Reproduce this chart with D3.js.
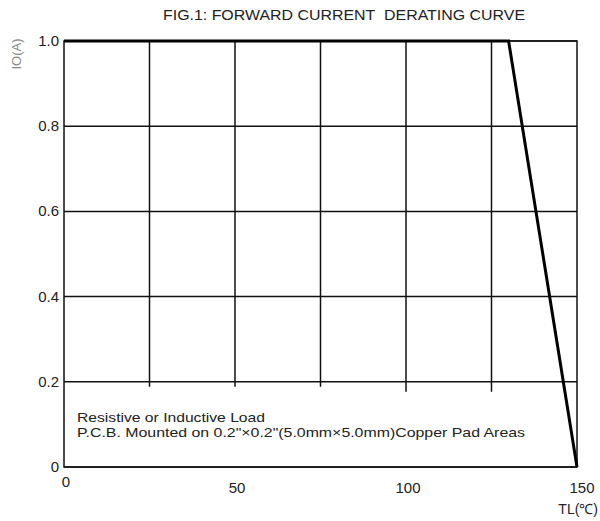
<!DOCTYPE html>
<html>
<head>
<meta charset="utf-8">
<script src="https://cdn.jsdelivr.net/npm/d3@7"></script>
<style>
  body { margin: 0; background: #fff; }
  text { font-family: "Liberation Sans", Arial, sans-serif; fill: #222; }
</style>
</head>
<body>
<div id="chart"></div>
<script>
// derating curve: IO(A) against TL(°C)
var tempPoints = [0, 130, 150];
var currentPoints = [1.0, 1.0, 0];
var xTicks = [0, 50, 100, 150];
var yTicks = [0, 0.2, 0.4, 0.6, 0.8, 1.0];
var yTickLabels = ["0", "0.2", "0.4", "0.6", "0.8", "1.0"];
var xGrid = [25, 50, 75, 100, 125];
var notes = ["Resistive or Inductive Load",
  "P.C.B. Mounted on 0.2\"\u00d70.2\"(5.0mm\u00d75.0mm)Copper Pad Areas"];
var noteWidths = [188, 448];

var width = 600, height = 521;
var svg = d3.select("#chart").append("svg")
  .attr("width", width)
  .attr("height", height);

var x = d3.scaleLinear().domain([0, 150]).range([64, 577]);
var y = d3.scaleLinear().domain([0, 1]).range([467, 41]);

// horizontal grid lines
svg.append("g").selectAll("line")
  .data(yTicks)
  .enter().append("line")
  .attr("x1", x(0)).attr("x2", x(150))
  .attr("y1", function (d) { return y(d); })
  .attr("y2", function (d) { return y(d); })
  .attr("stroke", "#111").attr("stroke-width", 1.5);

// vertical grid lines stop at 0.2, with a short tick below
svg.append("g").selectAll("line")
  .data(xGrid)
  .enter().append("line")
  .attr("x1", function (d) { return x(d); })
  .attr("x2", function (d) { return x(d); })
  .attr("y1", y(1))
  .attr("y2", function (d) { return y(0.2) + (d >= 100 ? 10 : 5); })
  .attr("stroke", "#111").attr("stroke-width", 1.5);

// frame
svg.append("rect")
  .attr("x", x(0)).attr("y", y(1))
  .attr("width", x(150) - x(0)).attr("height", y(0) - y(1))
  .attr("fill", "none").attr("stroke", "#111").attr("stroke-width", 1.5);

// curve
var line = d3.line()
  .x(function (d) { return x(d[0]); })
  .y(function (d) { return y(d[1]); });
svg.append("path")
  .datum(d3.zip(tempPoints, currentPoints))
  .attr("d", line)
  .attr("fill", "none")
  .attr("stroke", "#000")
  .attr("stroke-width", 3);

// y tick labels
svg.append("g").selectAll("text")
  .data(yTicks)
  .enter().append("text")
  .attr("x", 59)
  .attr("y", function (d) { return y(d) + 5; })
  .attr("text-anchor", "end")
  .style("font-size", "15px")
  .text(function (d, i) { return yTickLabels[i]; });

// x tick labels
svg.append("g").selectAll("text")
  .data(xTicks)
  .enter().append("text")
  .attr("x", function (d) { return x(d) + (d === 150 ? 5 : 2); })
  .attr("y", function (d) { return d === 0 ? 487 : 493; })
  .attr("text-anchor", "middle")
  .style("font-size", "15px")
  .text(function (d) { return d; });

svg.append("text")
  .attr("x", 598).attr("y", 514)
  .attr("text-anchor", "end")
  .style("font-size", "14px")
  .text("TL(\u2103)");

svg.append("text")
  .attr("transform", "translate(21,54) rotate(-90)")
  .attr("text-anchor", "middle")
  .style("font-size", "13px")
  .style("fill", "#888")
  .text("IO(A)");

svg.append("text")
  .attr("x", 163).attr("y", 20)
  .attr("textLength", 362)
  .attr("lengthAdjust", "spacingAndGlyphs")
  .style("font-size", "15px")
  .text("FIG.1: FORWARD CURRENT\u00a0\u00a0DERATING CURVE");

svg.append("g").selectAll("text")
  .data(notes)
  .enter().append("text")
  .attr("x", 77)
  .attr("y", function (d, i) { return 422 + i * 15; })
  .attr("textLength", function (d, i) { return noteWidths[i]; })
  .attr("lengthAdjust", "spacingAndGlyphs")
  .style("font-size", "13px")
  .text(function (d) { return d; });
</script>
</body>
</html>
